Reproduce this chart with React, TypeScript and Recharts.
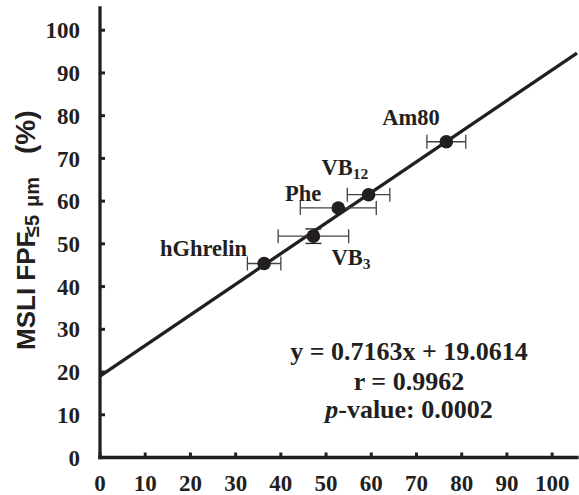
import { ErrorBar, ReferenceLine, Scatter, ScatterChart, XAxis, YAxis, Customized } from "recharts"

const NAMES = ["hGhrelin", "VB3", "Phe", "VB12", "Am80"]
const DISSOLUTION = [36.3, 47.2, 52.7, 59.4, 76.6]
const FPF = [45.4, 51.8, 58.4, 61.5, 73.9]
const X_ERR = [3.7, 7.8, 8.4, 4.7, 4.3]
const Y_ERR = [0, 1.7, 0, 0, 0]

const TICKS = [0, 10, 20, 30, 40, 50, 60, 70, 80, 90, 100]
const SLOPE = 0.7163
const INTERCEPT = 19.0614
const X_MAX = 105.5
const Y_MAX = 105.2

const INK = "#231f20"
const SERIF = "'Liberation Serif', 'Times New Roman', serif"
const SANS = "'Liberation Sans', Arial, sans-serif"

// where each name sits relative to its marker
const LABEL_POS: Record<string, { dx: number; dy: number; anchor: "start" | "end" }> = {
  hGhrelin: { dx: -17, dy: -8, anchor: "end" },
  VB3: { dx: 18, dy: 29, anchor: "start" },
  Phe: { dx: -17, dy: -7, anchor: "end" },
  VB12: { dx: -47, dy: -20, anchor: "start" },
  Am80: { dx: -64, dy: -17, anchor: "start" },
}

const data = NAMES.map((name, i) => ({
  name,
  x: DISSOLUTION[i],
  y: FPF[i],
  xErr: X_ERR[i],
  yErr: Y_ERR[i],
}))

function Marker(props: any) {
  const { cx, cy, payload } = props
  const pos = LABEL_POS[payload.name]
  const sub = payload.name.match(/^VB(\d+)$/)
  return (
    <g>
      <circle cx={cx} cy={cy} r={6.8} fill={INK} />
      <text
        x={cx + pos.dx}
        y={cy + pos.dy}
        textAnchor={pos.anchor}
        fontFamily={SERIF}
        fontWeight="bold"
        fontSize={22.5}
        fill={INK}
      >
        {sub ? (
          <>
            VB
            <tspan fontSize={15.5} dy={4}>
              {sub[1]}
            </tspan>
          </>
        ) : (
          payload.name
        )}
      </text>
    </g>
  )
}

function YTitle() {
  return (
    <text transform="translate(35, 350) rotate(-90)" fontFamily={SANS} fontWeight="bold" fill={INK}>
      <tspan x={0} y={0} fontSize={26}>
        MSLI FPF
      </tspan>
      <tspan x={113} y={4} fontSize={20}>
        ≤5
      </tspan>
      <tspan x={143} y={4} fontSize={20}>
        μm
      </tspan>
      <tspan x={196} y={0} fontSize={28}>
        (%)
      </tspan>
    </text>
  )
}

function Stats() {
  return (
    <text fontFamily={SERIF} fontWeight="bold" fontSize={26} fill={INK} textAnchor="middle">
      <tspan x={409} y={360}>
        y = 0.7163x + 19.0614
      </tspan>
      <tspan x={409} y={390}>
        r = 0.9962
      </tspan>
      <tspan x={409} y={418}>
        <tspan fontStyle="italic">p</tspan>-value: 0.0002
      </tspan>
    </text>
  )
}

export default function App() {
  const axisLine = { stroke: INK, strokeWidth: 3.3, strokeLinecap: "square" as const }
  const tickLine = { stroke: INK, strokeWidth: 3 }
  const tickFont = { fill: INK, fontSize: 23, fontFamily: SERIF, fontWeight: "bold" }

  return (
    <div style={{ position: "absolute", left: 0, top: 0, width: 579, height: 495, background: "#fff" }}>
      <ScatterChart width={579} height={495} margin={{ top: 8, right: 2, bottom: 0, left: 0 }}>
        <XAxis
          type="number"
          dataKey="x"
          domain={[0, X_MAX]}
          ticks={TICKS}
          allowDataOverflow
          height={37.5}
          axisLine={axisLine}
          tickLine={tickLine}
          tickSize={-5}
          tickMargin={22}
          tick={tickFont}
          interval={0}
        />
        <YAxis
          type="number"
          dataKey="y"
          domain={[0, Y_MAX]}
          ticks={TICKS}
          allowDataOverflow
          width={100}
          axisLine={axisLine}
          tickLine={tickLine}
          tickSize={-5}
          tickMargin={25}
          tick={tickFont}
          interval={0}
        />
        <ReferenceLine
          segment={[
            { x: 0, y: INTERCEPT },
            { x: X_MAX, y: SLOPE * X_MAX + INTERCEPT },
          ]}
          stroke={INK}
          strokeWidth={3.3}
        />
        <Scatter data={data} shape={<Marker />} isAnimationActive={false}>
          <ErrorBar dataKey="xErr" direction="x" width={7} stroke="#444" strokeWidth={1.3} />
          <ErrorBar dataKey="yErr" direction="y" width={8} stroke={INK} strokeWidth={1.3} />
        </Scatter>
        <Customized component={YTitle} />
        <Customized component={Stats} />
      </ScatterChart>
    </div>
  )
}
